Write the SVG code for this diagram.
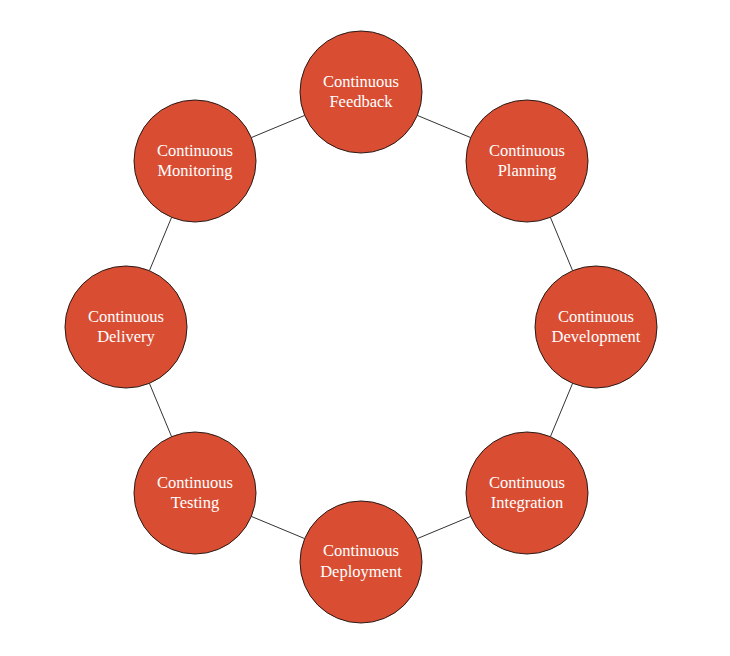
<svg xmlns="http://www.w3.org/2000/svg" width="730" height="656" viewBox="0 0 730 656">
<style>
.node circle{fill:#D94E33;stroke:#2a1a16;stroke-width:1}
.node text{fill:#ffffff;font-family:"Liberation Serif","Times New Roman",serif;font-size:16.5px;text-anchor:middle}
.conn line{stroke:#333333;stroke-width:1}
</style>
<rect width="730" height="656" fill="#ffffff"/>
<g id="connectors" class="conn">
<line x1="417.3" y1="115.4" x2="470.7" y2="137.6"/>
<line x1="550.4" y1="217.3" x2="572.6" y2="270.7"/>
<line x1="572.6" y1="383.3" x2="550.4" y2="436.7"/>
<line x1="470.7" y1="516.4" x2="417.3" y2="538.6"/>
<line x1="304.7" y1="538.6" x2="251.3" y2="516.4"/>
<line x1="171.6" y1="436.7" x2="149.4" y2="383.3"/>
<line x1="149.4" y1="270.7" x2="171.6" y2="217.3"/>
<line x1="251.3" y1="137.6" x2="304.7" y2="115.4"/>
</g>
<g id="feedback" class="node"><circle cx="361" cy="92" r="61"/><text x="361" y="87">Continuous</text><text x="361" y="107">Feedback</text></g>
<g id="planning" class="node"><circle cx="527" cy="161" r="61"/><text x="527" y="156">Continuous</text><text x="527" y="176">Planning</text></g>
<g id="development" class="node"><circle cx="596" cy="327" r="61"/><text x="596" y="322">Continuous</text><text x="596" y="342">Development</text></g>
<g id="integration" class="node"><circle cx="527" cy="493" r="61"/><text x="527" y="488">Continuous</text><text x="527" y="508">Integration</text></g>
<g id="deployment" class="node"><circle cx="361" cy="562" r="61"/><text x="361" y="556">Continuous</text><text x="361" y="577">Deployment</text></g>
<g id="testing" class="node"><circle cx="195" cy="493" r="61"/><text x="195" y="488">Continuous</text><text x="195" y="508">Testing</text></g>
<g id="delivery" class="node"><circle cx="126" cy="327" r="61"/><text x="126" y="322">Continuous</text><text x="126" y="342">Delivery</text></g>
<g id="monitoring" class="node"><circle cx="195" cy="161" r="61"/><text x="195" y="156">Continuous</text><text x="195" y="176">Monitoring</text></g>
</svg>
